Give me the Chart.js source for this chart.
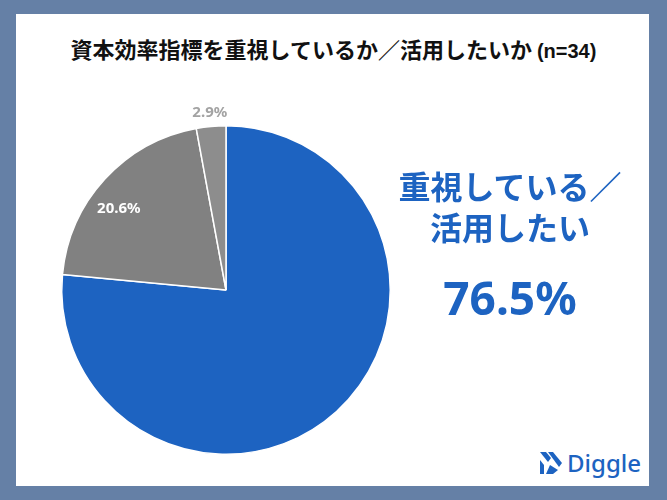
<!DOCTYPE html>
<html lang="ja">
<head>
<meta charset="utf-8">
<script src="https://cdn.jsdelivr.net/npm/chart.js@4"></script>
<style>
  html, body { margin: 0; padding: 0; }
  body { width: 667px; height: 500px; background: #6580a6; position: relative; overflow: hidden;
         font-family: "Noto Sans", "Noto Sans CJK JP", sans-serif; }
  #card { position: absolute; left: 16px; top: 14px; width: 633px; height: 472px; background: #fff; }
  #title { position: absolute; left: 0; top: 35px; width: 667px; text-align: center; font-weight: bold;
           font-size: 22px; line-height: 26px; color: #111; font-family: "Noto Sans CJK JP", sans-serif; }
  #title span { font-size: 20px; font-family: "Liberation Sans Narrow", sans-serif; }
  #wrap { position: absolute; left: 26px; top: 90px; width: 400px; height: 400px; }
  .big { position: absolute; left: 390px; width: 240px; text-align: center; color: #1d63c1; font-weight: bold; }
  #l1 { top: 167px; font-size: 32px; line-height: 36px; font-family: "Noto Sans CJK JP", sans-serif; }
  #l2 { top: 208px; font-size: 32px; line-height: 36px; font-family: "Noto Sans CJK JP", sans-serif; }
  #pct { top: 270px; font-size: 46px; line-height: 54px; }
  #logo { position: absolute; left: 540px; top: 449px; display: flex; align-items: center; color: #1d63c1; }
  #logo b { font-size: 24px; font-weight: 500; margin-left: 5px; line-height: 28px; }
</style>
</head>
<body>
<div id="card"></div>
<div id="title">資本効率指標を重視しているか／活用したいか <span>(n=34)</span></div>
<div id="wrap"><canvas id="MiGrafica"></canvas></div>
<div class="big" id="l1">重視している／</div>
<div class="big" id="l2">活用したい</div>
<div class="big" id="pct">76.5%</div>
<div id="logo">
  <svg width="22" height="22" viewBox="0 0 22 22">
    <polygon points="0,0 6,0 11,6 8,10" fill="#1d63c1"/>
    <polygon points="8,0 13,0 22,11 19,15" fill="#1d63c1"/>
    <polygon points="0,8 4,13 4,22 0,22" fill="#1d63c1"/>
    <polygon points="10,13 18,18 13,22 6,22" fill="#1d63c1"/>
  </svg>
  <b>Diggle</b>
</div>
<script>
// 回答の内訳（%）
const categorias = ["重視している／活用したい", "その他", "無回答"];
const valores = [76.5, 20.6, 2.9];
const etiquetas = ["76.5%", "20.6%", "2.9%"];
const colores = ["#1d63c1", "#818181", "#8d8d8d"];

// etiquetas sobre el pastel (la del azul va a la derecha en grande)
const etiquetasPlugin = {
  id: "etiquetas",
  afterDatasetsDraw(chart) {
    const ctx = chart.ctx;
    const meta = chart.getDatasetMeta(0);
    meta.data.forEach((arc, i) => {
      if (i === 0) return;
      const p = arc.getProps(["x", "y", "startAngle", "endAngle", "outerRadius"], true);
      const ang = i === 1
        ? p.startAngle + (p.endAngle - p.startAngle) * 0.43
        : (p.startAngle + p.endAngle) / 2;
      const r = i === 1 ? p.outerRadius * 0.82 : p.outerRadius + 14;
      ctx.save();
      ctx.font = "bold 15px 'Noto Sans'";
      ctx.fillStyle = i === 1 ? "#ffffff" : "#a3a3a3";
      ctx.textAlign = "center";
      ctx.textBaseline = "middle";
      ctx.fillText(etiquetas[i], p.x + Math.cos(ang) * r, p.y + Math.sin(ang) * r);
      ctx.restore();
    });
  }
};

let miCanvas = document.getElementById("MiGrafica").getContext("2d");

var chart = new Chart(miCanvas, {
  type: "pie",
  data: {
    labels: categorias,
    datasets: [{
      data: valores,
      backgroundColor: colores,
      borderColor: "#ffffff",
      borderWidth: 1.5
    }]
  },
  options: {
    responsive: true,
    maintainAspectRatio: false,
    animation: false,
    layout: { padding: 35 },
    plugins: {
      legend: { display: false },
      tooltip: { enabled: false }
    }
  },
  plugins: [etiquetasPlugin]
});
</script>
</body>
</html>
